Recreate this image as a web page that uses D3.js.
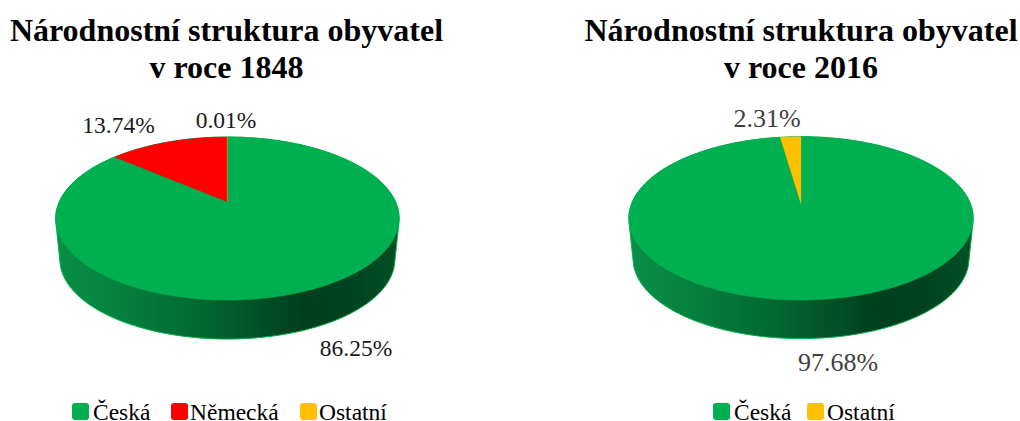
<!DOCTYPE html>
<html><head><meta charset="utf-8">
<script src="https://cdn.jsdelivr.net/npm/d3@7"></script>
<style>html,body{margin:0;background:#fff}svg{display:block}text{font-family:"Liberation Serif",serif}</style>
</head><body><svg id="c" width="1020" height="421"></svg>
<script>
const categories1848 = ["Česká","Německá","Ostatní"];
const values1848 = [86.25,13.74,0.01];
const categories2016 = ["Česká","Ostatní"];
const values2016 = [97.68,2.31];
const titleLines1848 = ["Národnostní struktura obyvatel","v roce 1848"];
const titleLines2016 = ["Národnostní struktura obyvatel","v roce 2016"];
const colors = {"Česká":"#00B050","Německá":"#FF0000","Ostatní":"#FFC000"};

const layouts = [
 {cats:categories1848,vals:values1848,title:titleLines1848,tx:226.5,cx:227.4,ay:201.8,sx:168.1,back:64.8,front:98.2,depth:41.5,shrink:.975,lf:23.5,
  labels:[[356,356,"#1a1a1a"],[118.5,133,"#1a1a1a"],[226,128,"#1a1a1a"]],
  legend:[[72,93],[171,190],[300,319]],grad:"g0"},
 {cats:categories2016,vals:values2016,title:titleLines2016,tx:801,cx:801,ay:204,sx:169.5,back:67.3,front:96,depth:41,shrink:.975,lf:26,
  labels:[[838,371,"#404040"],[767,127,"#404040"]],
  legend:[[713,734],[807,827]],grad:"g1"}
];

const svg = d3.select("#c");
const defs = svg.append("defs");
function makeGrad(id){
  const g = defs.append("linearGradient").attr("id",id).attr("x1",0).attr("x2",1).attr("y1",0).attr("y2",0);
  [[0,"#0a8f47"],[.2,"#047f3d"],[.45,"#02652f"],[.72,"#003f1d"],[.85,"#004220"],[1,"#004f26"]]
    .forEach(s=>g.append("stop").attr("offset",s[0]).attr("stop-color",s[1]));
}
const line = d3.line();
layouts.forEach(L=>{
  makeGrad(L.grad);
  const g = svg.append("g");
  L.title.forEach((t,i)=>g.append("text").attr("x",L.tx).attr("y",41+i*36.5)
    .attr("text-anchor","middle").attr("font-size",32).attr("font-weight","bold").attr("fill","#000").text(t));
  const p=(L.front-L.back)/(L.front+L.back), s=L.back*(1+p);
  const sy=d3.scaleLinear().domain([0,1]).range([L.ay,L.ay-s]);
  const sx=d3.scaleLinear().domain([0,1]).range([L.cx,L.cx+L.sx]);
  const proj=(a,r=1)=>{
    const u=r*Math.sin(a), v=r*Math.cos(a), w=1+p*v;
    return [sx(u/w), sy(v/w)];
  };
  const projB=(a)=>{
    const q=proj(a);
    return [L.cx+(q[0]-L.cx)*L.shrink, L.ay+L.depth+(q[1]-L.ay)*L.shrink];
  };
  const circ=d3.range(0,360,1).map(d=>d*Math.PI/180);
  const hull=d3.polygonHull(circ.map(a=>proj(a)).concat(circ.map(projB)));
  g.append("path").attr("d",line(hull)+"Z").attr("fill",`url(#${L.grad})`)
    .attr("stroke","#00B050").attr("stroke-width",1);
  const arcs=d3.pie().sort(null).value(d=>d)(L.vals);
  arcs.forEach((d,i)=>{
    const n=Math.max(2,Math.ceil((d.endAngle-d.startAngle)*60));
    const pts=[proj(0,0)].concat(d3.range(n+1).map(k=>proj(d.startAngle+(d.endAngle-d.startAngle)*k/n)));
    g.append("path").attr("d",line(pts)+"Z").attr("fill",colors[L.cats[i]])
      .attr("stroke",colors[L.cats[i]]).attr("stroke-width",i===0?.6:.3).attr("stroke-linejoin","round");
    g.append("text").attr("x",L.labels[i][0]).attr("y",L.labels[i][1]).attr("text-anchor","middle")
      .attr("font-size",L.lf).attr("fill",L.labels[i][2]).text(d.value.toFixed(2)+"%");
  });
  L.cats.forEach((c,i)=>{
    const [bx,tx]=L.legend[i];
    g.append("rect").attr("x",bx).attr("y",403).attr("width",17).attr("height",17).attr("rx",3)
      .attr("fill",colors[c]);
    g.append("text").attr("x",tx).attr("y",420).attr("font-size",23.5).attr("fill","#000").text(c);
  });
});
</script></body></html>
